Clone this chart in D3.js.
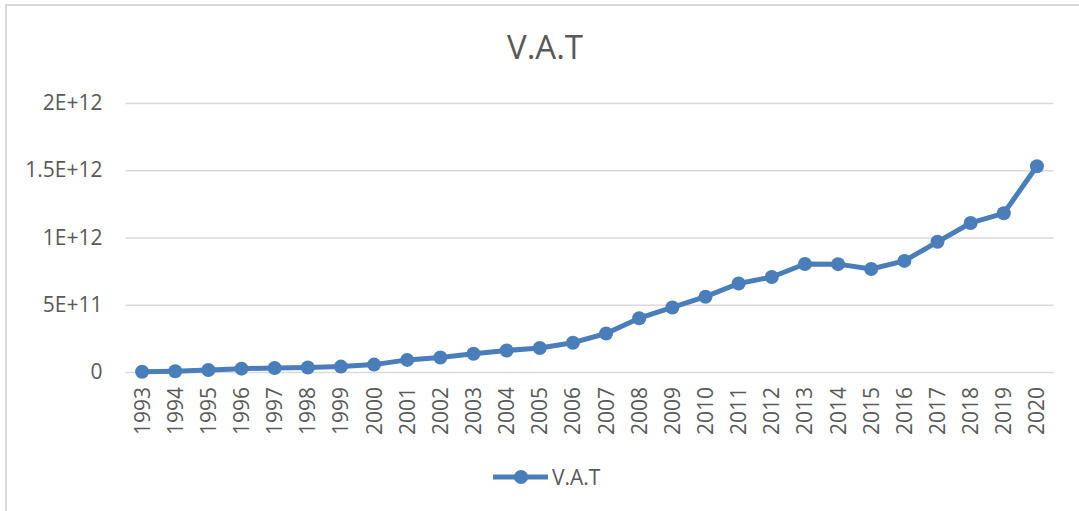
<!DOCTYPE html>
<html>
<head>
<meta charset="utf-8">
<script src="https://cdn.jsdelivr.net/npm/d3@7"></script>
<style>
  html, body { margin: 0; padding: 0; background: #fff; }
  svg { display: block; font-family: "Open Sans", "DejaVu Sans", sans-serif; }
</style>
</head>
<body>
<div id="chart"></div>
<script>
var years = ["1993","1994","1995","1996","1997","1998","1999","2000","2001","2002",
             "2003","2004","2005","2006","2007","2008","2009","2010","2011","2012",
             "2013","2014","2015","2016","2017","2018","2019","2020"];
var vat = [2e9, 6e9, 1.5e10, 2.5e10, 3e10, 3.3e10, 4e10, 5.5e10, 9e10, 1.08e11,
           1.36e11, 1.6e11, 1.78e11, 2.18e11, 2.86e11, 4.0e11, 4.8e11, 5.6e11, 6.58e11, 7.06e11,
           8.03e11, 8.02e11, 7.66e11, 8.26e11, 9.68e11, 1.108e12, 1.18e12, 1.53e12];
var yTicks = [0, 5e11, 1e12, 1.5e12, 2e12];
var yLabels = ["0", "5E+11", "1E+12", "1.5E+12", "2E+12"];
var seriesName = "V.A.T";
var title = "V.A.T";

var width = 1079, height = 511;
var plot = {left: 125.5, right: 1053.5, top: 103, bottom: 372};
var blue = "#4a7ebb", grey = "#595959";

var svg = d3.select("#chart").append("svg")
  .attr("width", width)
  .attr("height", height);

// chart area border (cropped on the right/bottom)
svg.append("rect")
  .attr("x", 6).attr("y", 5)
  .attr("width", width + 10).attr("height", height + 10)
  .attr("fill", "none")
  .attr("stroke", "#d9d9d9")
  .attr("stroke-width", 2);

var x = d3.scaleBand().domain(years).range([plot.left, plot.right]).padding(0);
var y = d3.scaleLinear().domain([0, 2e12]).range([plot.bottom, plot.top]);
var cx = function(d) { return x(d) + x.bandwidth() / 2; };

// gridlines + y labels
var yAxis = svg.append("g")
  .attr("transform", "translate(" + plot.left + ",0)")
  .call(d3.axisLeft(y)
    .tickValues(yTicks)
    .tickSize(-(plot.right - plot.left))
    .tickPadding(23)
    .tickFormat(function(d, i) { return yLabels[i]; }));
yAxis.select(".domain").remove();
yAxis.selectAll(".tick line").attr("stroke", "#d9d9d9").attr("stroke-width", 1.5);
yAxis.selectAll(".tick text")
  .attr("fill", grey)
  .style("font-size", "21px")
  .style("font-family", "\"Open Sans\", sans-serif");

// x labels, rotated
var xAxis = svg.append("g")
  .attr("transform", "translate(0," + plot.bottom + ")")
  .call(d3.axisBottom(x).tickSize(0).tickPadding(0));
xAxis.select(".domain").remove();
xAxis.selectAll(".tick text")
  .attr("fill", grey)
  .style("font-size", "21px")
  .style("font-family", "\"Open Sans\", sans-serif")
  .attr("text-anchor", "end")
  .attr("transform", "rotate(-90)")
  .attr("x", -15)
  .attr("y", 0)
  .attr("dy", "0.36em");

// line + markers
var line = d3.line()
  .x(function(d, i) { return cx(years[i]); })
  .y(function(d) { return y(d); });

svg.append("path")
  .datum(vat)
  .attr("d", line)
  .attr("fill", "none")
  .attr("stroke", blue)
  .attr("stroke-width", 5)
  .attr("stroke-linejoin", "round");

svg.selectAll(".dot")
  .data(vat)
  .enter().append("circle")
  .attr("class", "dot")
  .attr("cx", function(d, i) { return cx(years[i]); })
  .attr("cy", function(d) { return y(d); })
  .attr("r", 7)
  .attr("fill", blue);

// title
svg.append("text")
  .attr("x", 545).attr("y", 59)
  .attr("text-anchor", "middle")
  .attr("fill", grey)
  .style("font-size", "33px")
  .text(title);

// legend
var lg = svg.append("g").attr("transform", "translate(493,477)");
lg.append("line")
  .attr("x1", 0).attr("x2", 55)
  .attr("y1", 0).attr("y2", 0)
  .attr("stroke", blue).attr("stroke-width", 5);
lg.append("circle").attr("cx", 28).attr("cy", 0).attr("r", 7).attr("fill", blue);
lg.append("text")
  .attr("x", 59).attr("y", 0).attr("dy", "0.36em")
  .attr("fill", grey)
  .style("font-size", "21px")
  .text(seriesName);
</script>
</body>
</html>
